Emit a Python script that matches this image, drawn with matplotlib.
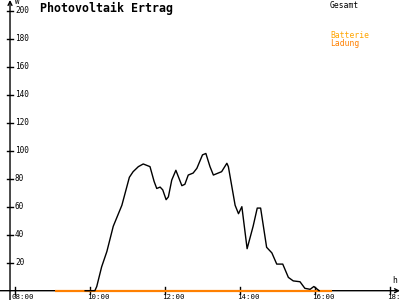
import matplotlib
matplotlib.use("Agg")
import matplotlib.pyplot as plt

# Data
gesamt_hours = [9.87, 10.13, 10.18, 10.31, 10.45, 10.62, 10.85, 11.05, 11.15, 11.29, 11.42,
                11.60, 11.71, 11.78, 11.87, 11.94, 12.03, 12.09, 12.18, 12.29, 12.45, 12.53,
                12.62, 12.75, 12.85, 13.00, 13.09, 13.20, 13.29, 13.51, 13.65, 13.69, 13.87,
                13.96, 14.05, 14.19, 14.35, 14.46, 14.55, 14.71, 14.85, 14.98, 15.14, 15.29,
                15.42, 15.60, 15.73, 15.87, 15.97, 16.11]
gesamt_watts = [0, 0, 3, 17, 28, 46, 61, 81, 85, 88.6, 90.5,
                88.6, 78, 73, 74, 72, 65, 67, 79, 86, 75, 76,
                82.6, 84, 87.4, 97, 98, 88.6, 82.6, 85, 91, 88.6, 61,
                55, 60, 30, 46, 59, 59, 31, 27, 19, 19, 9.5,
                7, 6.4, 1.7, 1, 3, 0]
ladung_hours = [9.07, 16.45]
ladung_watts = [0, 0]

x_ticks = [8, 10, 12, 14, 16, 18]
x_tick_labels = ["08:00", "10:00", "12:00", "14:00", "16:00", "18:00"]
y_ticks = [20, 40, 60, 80, 100, 120, 140, 160, 180, 200]

fig = plt.figure(figsize=(4, 3), dpi=100)
ax = fig.add_axes([0, 0, 1, 1])
ax.set_xlim(7.6, 18.267)
ax.set_ylim(-6.64, 207.6)
ax.axis("off")

mono = "DejaVu Sans Mono"
x_axis_pos = 7.867

# axes lines with arrows
ax.annotate("", xy=(18.267, 0), xytext=(7.6, 0),
            arrowprops=dict(arrowstyle="->", color="black", lw=1, shrinkA=0, shrinkB=0,
                            mutation_scale=7), zorder=1)
ax.annotate("", xy=(x_axis_pos, 207.6), xytext=(x_axis_pos, -6.64),
            arrowprops=dict(arrowstyle="->", color="black", lw=1, shrinkA=0, shrinkB=0,
                            mutation_scale=7), zorder=1)

# ticks
for t, lab in zip(x_ticks, x_tick_labels):
    ax.plot([t, t], [-2.5, 2.8], color="black", lw=1, zorder=1)
    ax.text(t - 0.08, -5.9, lab, ha="left", va="baseline", fontsize=5.4, family=mono,
            color="black")
for v in y_ticks:
    ax.plot([x_axis_pos - 0.09, x_axis_pos + 0.09], [v, v], color="black", lw=1, zorder=1)
    ax.text(x_axis_pos + 0.13, v, str(v), ha="left", va="center", fontsize=5.6, family=mono,
            color="black")

ax.text(x_axis_pos + 0.13, 208.5, "W", ha="left", va="top", fontsize=5.4, family=mono)
ax.text(18.07, 4.0, "h", ha="left", va="bottom", fontsize=5.8, family=mono)

# series
ax.plot(ladung_hours, ladung_watts, color="#FF8000", lw=1.6, solid_capstyle="butt", zorder=4)
ax.plot(gesamt_hours, gesamt_watts, color="black", lw=1, zorder=5)

# title and legend
ax.text(8.67, 206.5, "Photovoltaik Ertrag", ha="left", va="top", fontsize=8.4,
        family=mono, fontweight="bold")
ax.text(16.4, 207.2, "Gesamt", ha="left", va="top", fontsize=5.8, family=mono, color="black")
ax.text(16.4, 185.5, "Batterie", ha="left", va="top", fontsize=5.8, family=mono, color="#FFA500")
ax.text(16.4, 180.0, "Ladung", ha="left", va="top", fontsize=5.8, family=mono, color="#FF8000")

fig.savefig("out.png", dpi=100)
